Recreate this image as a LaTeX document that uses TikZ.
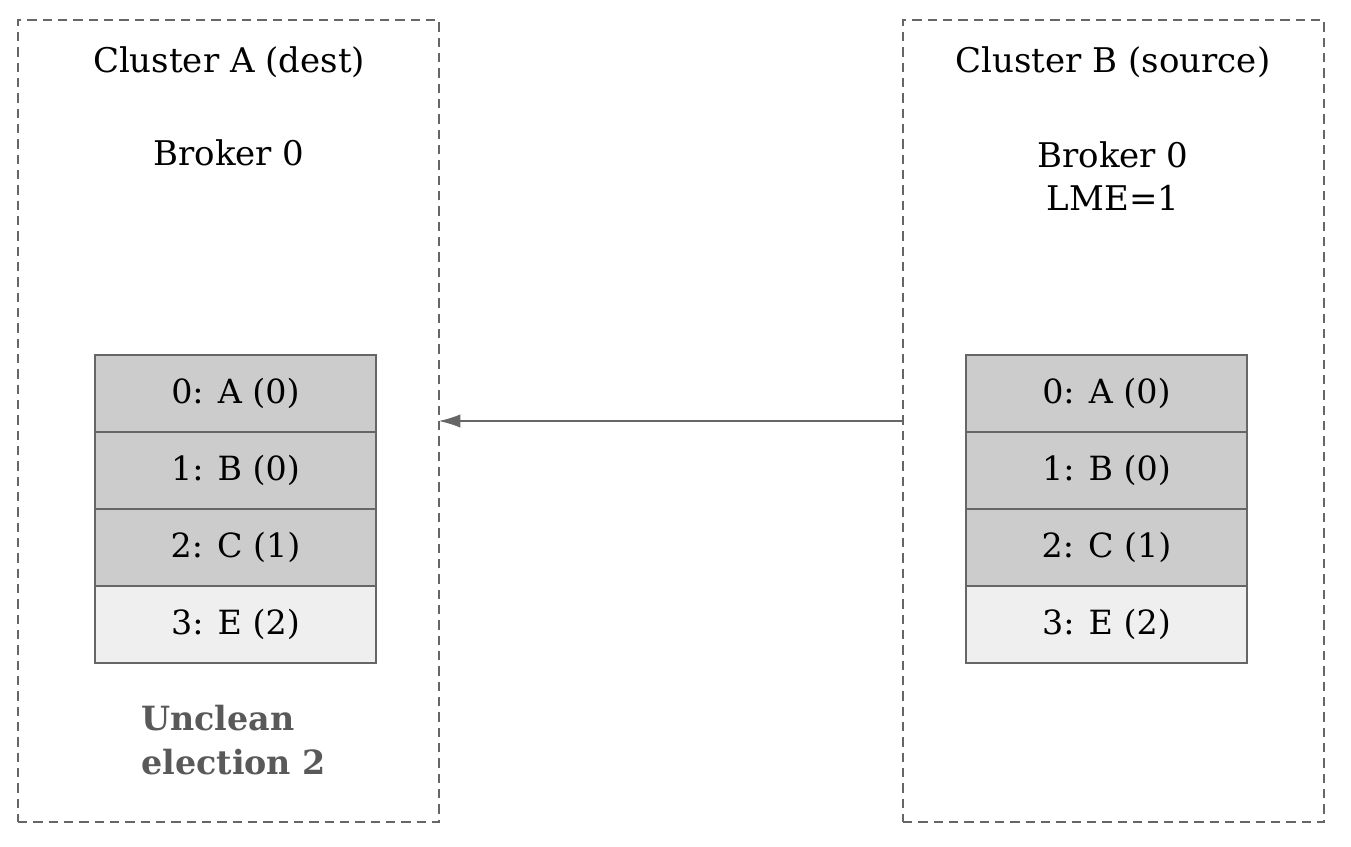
\documentclass[tikz,border=0pt]{standalone}
\usepackage{fontspec}
\setmainfont{DejaVu Serif}
\usetikzlibrary{positioning,arrows.meta}
\definecolor{edgegray}{HTML}{666666}
\definecolor{cellgray}{HTML}{CCCCCC}
\definecolor{celllight}{HTML}{EFEFEF}
\definecolor{notegray}{HTML}{595959}
\begin{document}
\begin{tikzpicture}[x=0.75pt,y=-0.75pt,
    cluster/.style={draw=edgegray,dash pattern=on 7pt off 4.5pt,thick,minimum width=315.75pt,minimum height=601.5pt,inner sep=0pt,outer sep=0pt},
    cell/.style={draw=edgegray,thick,fill=cellgray,minimum width=210.75pt,minimum height=57.75pt,inner sep=0pt,outer sep=0pt,font=\fontsize{25}{30}\selectfont},
    newcell/.style={cell,fill=celllight},
    lbl/.style={font=\fontsize{25.5}{32}\selectfont,align=center}]
  \useasboundingbox (0,0) rectangle (1351,846);
  % clusters
  \node[cluster] (clA) at (228.5,421) {};
  \node[cluster] (clB) at (1113.5,421) {};
  \node[lbl] (titleA) at (229,62) {Cluster A (dest)};
  \node[lbl] (titleB) at (1113,62) {Cluster B (source)};
  \node[lbl] (brokerA) at (229,153) {Broker 0};
  \node[lbl] (brokerB) at (1113,176) {Broker 0\\LME=1};
  % log of cluster A
  \node[cell] (a0) at (235.5,393.5) {0: A (0)};
  \node[cell,below=0pt of a0] (a1) {1: B (0)};
  \node[cell,below=0pt of a1] (a2) {2: C (1)};
  \node[newcell,below=0pt of a2] (a3) {3: E (2)};
  % log of cluster B
  \node[cell] (b0) at (1106.5,393.5) {0: A (0)};
  \node[cell,below=0pt of b0] (b1) {1: B (0)};
  \node[cell,below=0pt of b1] (b2) {2: C (1)};
  \node[newcell,below=0pt of b2] (b3) {3: E (2)};
  \node[align=left,anchor=north west,text=notegray,font=\fontsize{25}{33}\selectfont\bfseries,inner sep=0pt] (unclean) at (141,705) {Unclean\\election 2};
  % replication
  \draw[edgegray,thick,-{Latex[length=16pt,width=10pt]}] (clB.west) -- (clA.east);
\end{tikzpicture}
\end{document}
